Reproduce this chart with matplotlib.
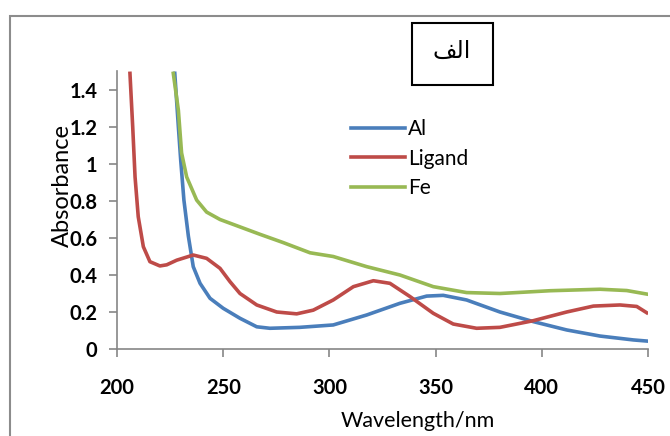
import matplotlib.pyplot as plt
from matplotlib.patches import Rectangle

# Al
al_w = [227.2, 228.9, 230.0, 231.5, 233.6, 235.9, 239.1, 243.8, 250, 257.9, 265.8, 272, 286,
        301.8, 317.6, 333.2, 345.8, 353.6, 364.6, 380.3, 396, 411.7, 427.4, 443.1, 449.4]
al_a = [1.49, 1.20, 1.02, 0.805, 0.61, 0.445, 0.355, 0.274, 0.22, 0.166, 0.12, 0.112, 0.117,
        0.13, 0.184, 0.247, 0.286, 0.29, 0.265, 0.20, 0.148, 0.103, 0.07, 0.049, 0.043]

# Ligand
lig_w = [206.1, 207.4, 208.5, 210.0, 212.4, 215.5, 220.2, 223.4, 228.1, 235.9, 242.2, 248.5,
         253.2, 257.9, 265.8, 275.2, 284.6, 292.4, 301.8, 311.3, 320.7, 328.5, 338, 348.9,
         358.3, 369.3, 380.3, 396, 411.7, 424.3, 436.8, 444.7, 449.4]
lig_a = [1.49, 1.20, 0.93, 0.715, 0.553, 0.472, 0.449, 0.455, 0.48, 0.508, 0.49, 0.436,
         0.364, 0.30, 0.238, 0.20, 0.19, 0.21, 0.265, 0.337, 0.369, 0.355, 0.283, 0.193,
         0.135, 0.112, 0.117, 0.153, 0.20, 0.232, 0.238, 0.23, 0.196]

# Fe
fe_w = [226.5, 228.9, 230.4, 232.8, 237.5, 242.2, 248.5, 257.9, 267.3, 278.3, 290.9, 301.8,
        317.6, 333.2, 348.9, 364.6, 380.3, 403.9, 427.4, 440, 449.4]
fe_a = [1.49, 1.29, 1.06, 0.93, 0.805, 0.74, 0.70, 0.66, 0.62, 0.575, 0.52, 0.50, 0.445,
        0.40, 0.337, 0.305, 0.30, 0.315, 0.323, 0.316, 0.297]

xticks = [200, 250, 300, 350, 400, 450]
yticks = [0, 0.2, 0.4, 0.6, 0.8, 1, 1.2, 1.4]
ytick_labels = ['0', '0.2', '0.4', '0.6', '0.8', '1', '1.2', '1.4']
panel_label = 'الف'

# matplotlib does no arabic shaping, so use presentation forms in visual order
forms = {'ا': '\ufe8d', 'ل': '\ufedf', 'ف': '\ufed2'}
panel_shown = ''.join(forms[c] for c in panel_label)[::-1]

fig = plt.figure(figsize=(6.7, 4.36), dpi=100)
fig.patches.append(Rectangle((10 / 670, -0.1), 1.1, 1 - 16 / 436 + 0.1, transform=fig.transFigure,
                             fill=False, edgecolor='#8c8c8c', linewidth=1.5))

ax = fig.add_axes([117 / 670, 1 - 349 / 436, 531 / 670, (349 - 71.5) / 436])
ax.plot(al_w, al_a, color='#4a7ebb', lw=2.6, label='Al')
ax.plot(lig_w, lig_a, color='#be4b48', lw=2.6, label='Ligand')
ax.plot(fe_w, fe_a, color='#98b954', lw=2.6, label='Fe')

ax.set_xlim(200, 450)
ax.set_ylim(0, 1.5)
ax.set_xticks(xticks)
ax.set_yticks(yticks)
ax.set_yticklabels(ytick_labels)
for s in ['top', 'right']:
    ax.spines[s].set_visible(False)
for s in ['left', 'bottom']:
    ax.spines[s].set_color('#868686')
    ax.spines[s].set_linewidth(1.2)
ax.tick_params(axis='both', colors='#868686', length=6, width=1.2, labelcolor='black')
ax.tick_params(axis='x', pad=15)
ax.tick_params(axis='y', pad=8)
for t in ax.get_xticklabels() + ax.get_yticklabels():
    t.set_fontfamily('Lato')
    t.set_fontweight('bold')
    t.set_fontsize(14.5)

ax.legend(loc='upper left', bbox_to_anchor=(0.405, 0.895), frameon=False, handlelength=2.6,
          handletextpad=0.15, labelspacing=0.45, prop={'family': 'Lato', 'size': 15})

fig.text(62 / 670, 1 - 185 / 436, 'Absorbance', rotation=90, ha='center', va='center',
         family='Lato', fontsize=17)
fig.text(418 / 670, 1 - 421 / 436, 'Wavelength/nm', ha='center', va='center',
         family='Lato', fontsize=15.5)

fig.patches.append(Rectangle((412 / 670, 1 - 85 / 436), 81 / 670, 62 / 436, transform=fig.transFigure,
                             fill=False, edgecolor='black', linewidth=1.5))
fig.text(452 / 670, 1 - 51 / 436, panel_shown, ha='center', va='center',
         family='DejaVu Sans', fontsize=17)

fig.savefig('out.png', dpi=100)
